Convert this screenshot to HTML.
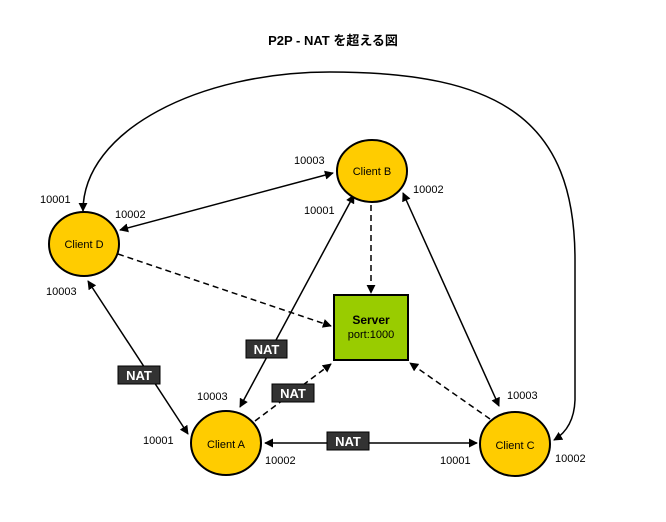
<!DOCTYPE html>
<html><head><meta charset="utf-8"><style>
html,body{margin:0;padding:0;background:#fff;}
svg{display:block;}
text{font-family:"Liberation Sans","Noto Sans CJK JP",sans-serif;}
</style></head><body>
<svg width="666" height="522" viewBox="0 0 666 522" xmlns="http://www.w3.org/2000/svg">
<defs>
<marker id="a" viewBox="0 0 10 10" refX="9" refY="5" markerWidth="9" markerHeight="9" orient="auto-start-reverse" markerUnits="userSpaceOnUse">
<path d="M0,0 L10,5 L0,10 z" fill="#000"/></marker>
</defs>
<text x="333" y="45" text-anchor="middle" font-size="13" font-weight="bold">P2P - NAT を超える図</text>
<g stroke="#000" stroke-width="1.5" fill="none">
<path d="M83,211 C 83,130 200,72 330,72 C 500,72 575,120 575,260 L 575,400 Q 574,428 554,440" marker-start="url(#a)" marker-end="url(#a)"/>
<line x1="120" y1="230" x2="333" y2="173" marker-start="url(#a)" marker-end="url(#a)"/>
<line x1="88" y1="281" x2="188" y2="434" marker-start="url(#a)" marker-end="url(#a)"/>
<line x1="240" y1="407" x2="354" y2="195" marker-start="url(#a)" marker-end="url(#a)"/>
<line x1="403" y1="193" x2="499" y2="406" marker-start="url(#a)" marker-end="url(#a)"/>
<line x1="265" y1="443" x2="477" y2="443" marker-start="url(#a)" marker-end="url(#a)"/>
</g>
<g stroke="#000" stroke-width="1.5" fill="none" stroke-dasharray="6,4">
<line x1="118" y1="254" x2="331" y2="326" marker-end="url(#a)"/>
<line x1="371" y1="205" x2="371" y2="293" marker-end="url(#a)"/>
<line x1="255" y1="421" x2="331" y2="364" marker-end="url(#a)"/>
<line x1="490" y1="419" x2="410" y2="363" marker-end="url(#a)"/>
</g>
<g stroke="#000" stroke-width="2" fill="#ffcc00">
<ellipse cx="84" cy="244" rx="35" ry="32"/>
<ellipse cx="372" cy="171" rx="35" ry="31"/>
<ellipse cx="226" cy="443" rx="35" ry="32"/>
<ellipse cx="515" cy="444" rx="35" ry="32"/>
</g>
<rect x="334" y="295" width="74" height="65" fill="#99cc00" stroke="#000" stroke-width="2"/>
<g font-size="11" text-anchor="middle">
<text x="84" y="248">Client D</text>
<text x="372" y="175">Client B</text>
<text x="226" y="448">Client A</text>
<text x="515" y="449">Client C</text>
<text x="371" y="324" font-weight="bold" font-size="12">Server</text>
<text x="371" y="338" font-size="11">port:1000</text>
</g>
<g font-size="11">
<text x="40" y="203">10001</text>
<text x="115" y="218">10002</text>
<text x="46" y="295">10003</text>
<text x="294" y="164">10003</text>
<text x="304" y="214">10001</text>
<text x="413" y="193">10002</text>
<text x="197" y="400">10003</text>
<text x="143" y="444">10001</text>
<text x="265" y="464">10002</text>
<text x="440" y="464">10001</text>
<text x="507" y="399">10003</text>
<text x="555" y="462">10002</text>
</g>
<g fill="#333" stroke="#000" stroke-width="1">
<rect x="246" y="340" width="41" height="18"/>
<rect x="118" y="366" width="42" height="18"/>
<rect x="272" y="384" width="42" height="18"/>
<rect x="327" y="432" width="42" height="18"/>
</g>
<g fill="#fff" font-size="13" font-weight="bold" text-anchor="middle">
<text x="266.5" y="354">NAT</text>
<text x="139" y="380">NAT</text>
<text x="293" y="398">NAT</text>
<text x="348" y="446">NAT</text>
</g>
</svg>
</body></html>
